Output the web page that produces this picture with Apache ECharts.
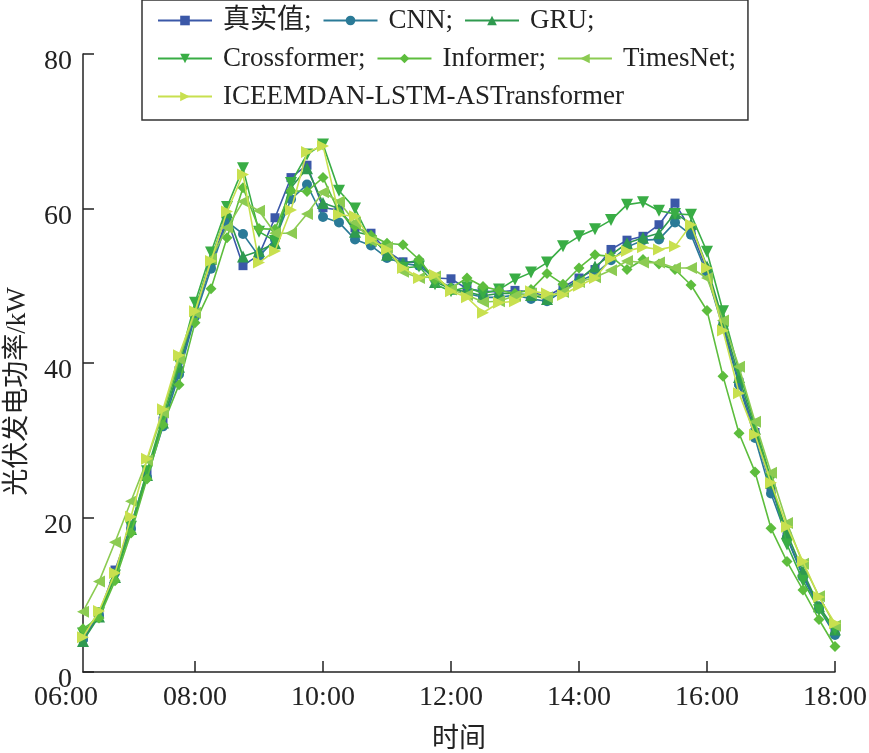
<!DOCTYPE html>
<html><head><meta charset="utf-8">
<script src="https://cdn.jsdelivr.net/npm/echarts@6/dist/echarts.min.js"></script>
<style>html,body{margin:0;padding:0;background:#fff}#c{width:869px;height:753px}</style>
</head><body><div id="c"></div>
<script>
const times = ["06:15","06:30","06:45","07:00","07:15","07:30","07:45","08:00","08:15","08:30","08:45","09:00",
"09:15","09:30","09:45","10:00","10:15","10:30","10:45","11:00","11:15","11:30","11:45","12:00",
"12:15","12:30","12:45","13:00","13:15","13:30","13:45","14:00","14:15","14:30","14:45","15:00",
"15:15","15:30","15:45","16:00","16:15","16:30","16:45","17:00","17:15","17:30","17:45","18:00"];
const xTickLabels = ["06:00","08:00","10:00","12:00","14:00","16:00","18:00"];
const yTicks = [0,20,40,60,80];

const actual = [4.5,7.5,13.2,19.0,25.8,32.5,39.0,46.5,52.8,58.7,52.6,54.0,58.8,64.0,65.6,60.1,59.8,57.5,56.8,54.5,53.1,53.0,51.0,50.9,49.6,49.3,49.2,49.4,49.2,48.6,49.8,51.0,52.1,54.7,55.9,56.4,57.9,60.7,57.2,52.0,45.0,37.5,31.0,24.0,17.5,12.5,8.5,5.2];
const cnn = [4.2,7.3,12.8,18.5,25.2,31.8,38.5,46.0,52.2,58.3,56.7,53.8,56.0,61.2,63.1,58.9,58.2,56.0,55.2,53.6,52.9,52.6,51.0,49.7,49.0,48.5,48.5,48.8,48.3,48.0,49.3,50.6,51.5,53.3,55.0,55.9,56.0,58.2,56.6,51.5,44.5,37.2,30.3,23.1,17.4,12.3,8.2,4.8];
const gru = [4.0,7.2,12.3,18.5,25.5,32.3,39.5,47.0,53.5,59.5,53.8,54.5,55.5,62.7,65.2,60.7,60.0,57.0,56.5,54.0,52.9,53.3,50.5,49.6,49.2,48.7,49.0,49.0,48.8,48.3,49.5,50.8,52.5,54.0,55.5,56.2,56.8,59.4,58.0,52.5,45.5,38.2,31.5,24.5,18.0,13.0,8.5,5.5];
const crossformer = [5.0,7.6,12.5,18.8,26.0,33.0,40.0,47.8,54.3,60.2,65.2,57.0,55.8,63.3,67.0,68.3,62.3,60.0,55.8,54.8,52.3,52.5,50.2,49.3,49.8,49.0,49.5,50.8,51.7,53.0,55.1,56.4,57.3,58.5,60.5,60.8,59.7,59.3,59.2,54.4,46.7,39.0,32.0,25.0,16.5,11.8,8.0,5.5];
const informer = [5.6,7.0,11.8,18.0,25.0,32.0,37.2,45.2,49.6,56.2,62.7,57.4,57.3,62.3,62.2,64.0,59.5,57.7,56.5,55.5,55.3,53.4,50.8,49.7,51.0,49.9,49.4,49.0,49.5,51.6,50.2,52.3,54.0,53.8,52.1,53.4,52.8,52.1,50.1,46.8,38.3,30.9,25.9,18.6,14.3,10.6,6.8,3.3];
const timesNet = [7.8,11.7,16.8,22.1,27.4,33.6,40.5,46.5,53.5,57.5,60.9,59.7,56.8,56.8,59.3,62.1,60.9,58.2,55.8,55.0,51.8,51.0,51.2,49.5,48.8,47.9,48.0,48.7,49.0,48.5,49.2,50.5,51.1,52.0,53.2,53.0,53.0,52.3,52.3,51.0,45.5,39.5,32.4,25.8,19.3,14.0,9.8,6.0];
const proposed = [4.5,7.9,12.8,20.1,27.6,34.0,41.0,46.7,53.2,59.6,64.4,53.0,54.5,59.8,67.3,68.1,59.2,59.0,56.0,54.7,52.3,51.0,51.4,49.3,48.5,46.5,47.8,48.0,49.3,49.0,48.8,50.0,51.0,53.5,54.5,55.0,54.7,55.1,57.9,52.3,44.2,36.1,30.7,24.5,18.8,14.3,9.7,6.3];

const seriesNames = ["真实值;","CNN;","GRU;","Crossformer;","Informer;","TimesNet;","ICEEMDAN-LSTM-ASTransformer"];
const seriesValues = [actual,cnn,gru,crossformer,informer,timesNet,proposed];
const colors = ["#3b58a8","#2a7a97","#2f9a4f","#39ad45","#5dbd3d","#8ccb52","#c8e04f"];
const symbols = ["rect","circle","triangle","triangle","diamond","triangle","triangle"];
const rotations = [0,0,0,180,0,90,-90];
const sizes = [9,10,12,12,11,12,12];

const toHours = s => Number(s.slice(0,2)) + Number(s.slice(3))/60;
const xMin = toHours(times[0]);
const xMax = toHours(times[times.length-1]);
const labelHours = xTickLabels.map(toHours);
const labelVals = labelHours.map(v => Math.max(v, xMin));

const FONT = "'Liberation Serif','Noto Sans CJK SC',serif";

const chart = echarts.init(document.getElementById('c'), null, {renderer:'canvas'});
chart.setOption({
  animation: false,
  backgroundColor: '#fff',
  grid: {left: 83, right: 34, top: 54, bottom: 81, containLabel: false, outerBoundsMode: 'none'},
  legend: {
    left: 142, top: 0, width: 600,
    padding: [7, 12, 10, 15],
    itemGap: 11, itemWidth: 54, itemHeight: 12,
    borderColor: '#333', borderWidth: 1.5,
    textStyle: {fontFamily: FONT, fontSize: 27, color: '#222', padding: [0,0,0,6]},
    data: seriesNames
  },
  xAxis: {
    type: 'value', min: xMin, max: xMax,
    name: '时间', nameLocation: 'middle', nameGap: 54,
    nameTextStyle: {fontFamily: FONT, fontSize: 27, color: '#222'},
    axisLine: {show: true, lineStyle: {color: '#222', width: 1.5}},
    axisTick: {show: true, inside: true, length: 11, lineStyle: {color: '#222', width: 1.5},
      customValues: labelHours.filter(v => v >= xMin)},
    splitLine: {show: false},
    axisLabel: {
      customValues: labelVals,
      margin: 12,
      fontFamily: FONT, fontSize: 28, color: '#222',
      formatter: function (v) {
        let best = 0;
        for (let i = 0; i < labelVals.length; i++) if (Math.abs(labelVals[i]-v) < Math.abs(labelVals[best]-v)) best = i;
        const t = xTickLabels[best];
        return labelHours[best] < xMin ? '{s|' + t + '}' : t;
      },
      rich: {s: {fontFamily: FONT, fontSize: 28, color: '#222', padding: [0, 34, 0, 0]}}
    }
  },
  yAxis: {
    type: 'value', min: yTicks[0], max: yTicks[yTicks.length-1], interval: yTicks[1]-yTicks[0],
    name: '光伏发电功率/kW', nameLocation: 'middle', nameRotate: 90, nameGap: 52,
    nameTextStyle: {fontFamily: FONT, fontSize: 27, color: '#222', padding: [0, 57, 0, 0]},
    axisLine: {show: true, lineStyle: {color: '#222', width: 1.5}},
    axisTick: {show: true, inside: true, length: 11, lineStyle: {color: '#222', width: 1.5}},
    splitLine: {show: false},
    axisLabel: {margin: 11, fontFamily: FONT, fontSize: 28, color: '#222',
      formatter: v => '{a|' + v + '}',
      rich: {a: {fontFamily: FONT, fontSize: 28, color: '#222', padding: [16, 0, 0, 0]}}}
  },
  series: seriesNames.map((n, k) => ({
    name: n, type: 'line',
    data: times.map((t, i) => [toHours(t), seriesValues[k][i]]),
    symbol: symbols[k], symbolRotate: rotations[k], symbolSize: sizes[k],
    showAllSymbol: true,
    itemStyle: {color: colors[k]},
    lineStyle: {color: colors[k], width: 1.6},
    z: 2 + k
  }))
});
</script>
</body></html>
